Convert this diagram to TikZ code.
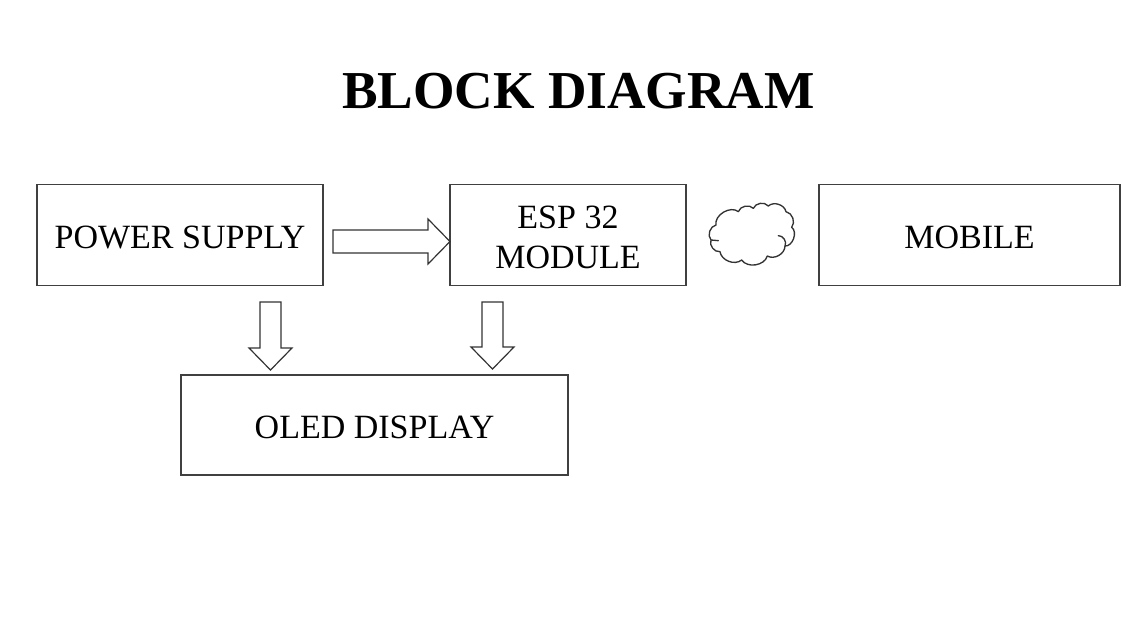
\documentclass[tikz,border=0pt]{standalone}
\usepackage{fontspec}
\setmainfont{Liberation Serif}
\newcommand{\lowered}[1]{\raisebox{-1.5pt}[\height][\depth]{#1}}
\tikzset{
  px/.style={x=0.75pt,y=-0.75pt},
  block/.style={draw=black!75,line width=0.85pt,inner sep=0pt,font=\fontsize{25.5}{30}\selectfont,align=center},
  blockarrow/.style={draw=black!80,fill=white,line width=0.9pt,line join=miter},
  cloudline/.style={draw=black!80,line width=1pt,line cap=round,line join=round}
}
\begin{document}
\begin{tikzpicture}[px]
\useasboundingbox (0,0) rectangle (1145,640);
\fill[white] (0,0) rectangle (1145,640);
\node[font=\fontsize{40}{44}\bfseries\selectfont] (title) at (578.5,91) {BLOCK DIAGRAM};
\node[block,minimum width=214.5pt,minimum height=75.75pt] (ps) at (180,235) {\lowered{POWER SUPPLY}};
\node[block,minimum width=177pt,minimum height=75.75pt] (esp) at (568,235) {\lowered{ESP 32}\\\lowered{MODULE}};
\node[block,minimum width=225.75pt,minimum height=75.75pt] (mobile) at (969.5,235) {\lowered{MOBILE}};
\node[block,minimum width=290.25pt,minimum height=75pt] (oled) at (374.5,425) {\lowered{OLED DISPLAY}};
\draw[blockarrow] (333,230) -- (428,230) -- (428,219) -- (450,241.5) -- (428,264) -- (428,253) -- (333,253) -- cycle;
\draw[blockarrow] (260,302) -- (281,302) -- (281,348) -- (292,348) -- (270.5,370) -- (249,348) -- (260,348) -- cycle;
\draw[blockarrow] (482,302) -- (503,302) -- (503,347) -- (514,347) -- (492.5,369) -- (471,347) -- (482,347) -- cycle;
\begin{scope}[shift={(690,190)},x=0.25pt,y=-0.25pt]
\draw[cloudline,bend right=60] (285,168)
 to[bend right=75] (305,112) to (288,65) to (235,48) to (190,55) to (145,65)
 to[bend right=70] (78,105) to (63,150) to (90,185) to (155,210)
 to[bend right=65] (232,198) to (285,168) to (265,137);
\draw[cloudline] (63,150) -- (85,152);
\end{scope}
\end{tikzpicture}
\end{document}
